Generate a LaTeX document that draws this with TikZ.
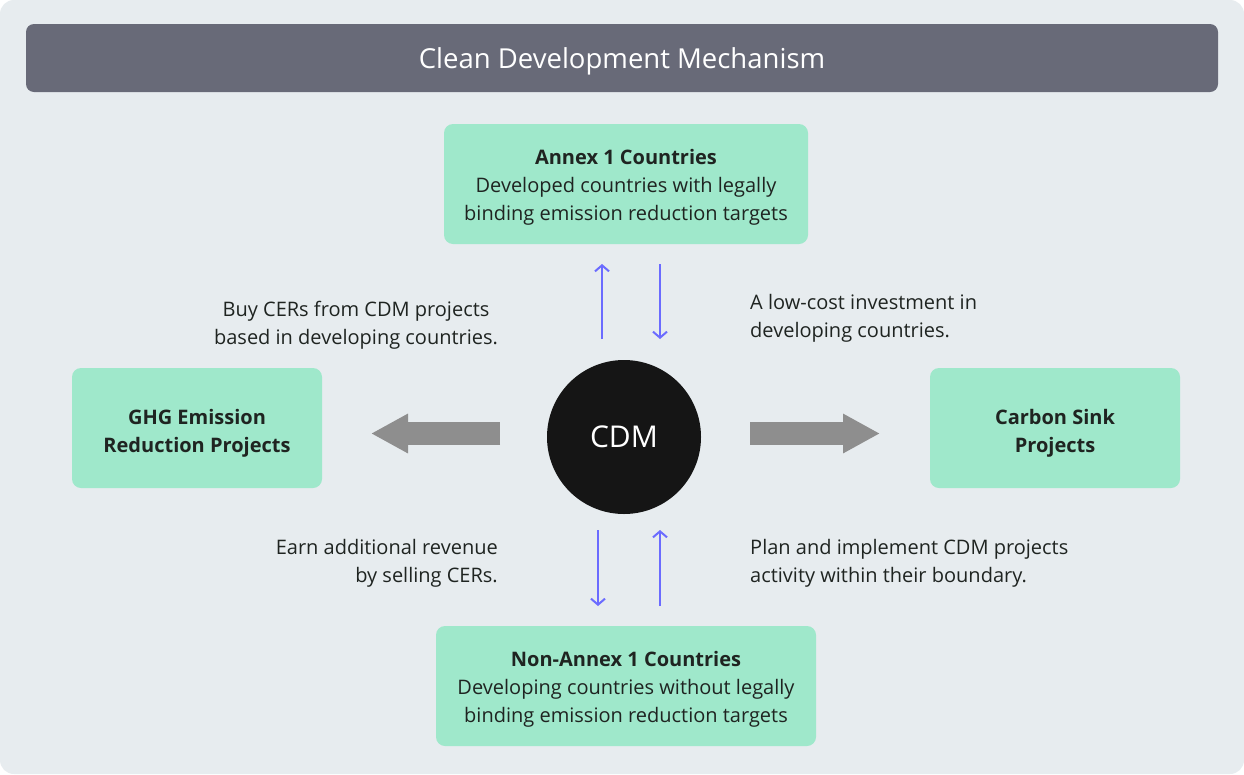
\documentclass[tikz,border=0pt]{standalone}
\usepackage{fontspec}
\setmainfont{Open Sans}
\usetikzlibrary{arrows.meta,calc}
\definecolor{bgc}{HTML}{E7ECEF}
\definecolor{barc}{HTML}{686A78}
\definecolor{boxc}{HTML}{9FE8CB}
\definecolor{txtc}{HTML}{1F2421}
\definecolor{bluec}{HTML}{6B6BFF}
\definecolor{grayc}{HTML}{8E8E8E}
\definecolor{circc}{HTML}{151515}
\tikzset{
  greenbox/.style={fill=boxc, rounded corners=9pt, inner sep=0pt},
  boxtxt/.style={text=txtc, align=center, inner sep=0pt, font=\fontsize{20}{28}\selectfont},
  lbl/.style={text=txtc, font=\fontsize{20}{28}\selectfont, inner sep=0pt},
  bluearrow/.style={draw=bluec, line width=2pt, -{Straight Barb[length=6pt,width=14pt,line width=2pt]}},
  bigarrow/.style={draw=grayc, line width=23pt, -{Triangle[length=37pt,width=37pt]}},
}
\begin{document}
\begin{tikzpicture}[x=1pt,y=-1pt]
\useasboundingbox (0,0) rectangle (1244,774);
\fill[white] (0,0) rectangle (1244,774);
\fill[bgc, rounded corners=14pt] (0,0) rectangle (1244,774);
\node[fill=barc, rounded corners=8pt, minimum width=1192pt, minimum height=68pt, inner sep=0pt] (title) at (622,58) {};
\node[text=white, inner sep=0pt, font=\fontsize{27.5}{28}\selectfont] (titletxt) at ([yshift=-3pt]title.center) {Clean Development Mechanism};

\node[greenbox, minimum width=364pt, minimum height=120pt] (annex) at (626,184) {};
\node[boxtxt] (annextxt) at ([yshift=-3pt]annex.center) {\textbf{Annex 1 Countries}\\Developed countries with legally\\binding emission reduction targets};
\node[greenbox, minimum width=380pt, minimum height=120pt] (nonannex) at (626,686) {};
\node[boxtxt] (nonannextxt) at ([yshift=-3pt]nonannex.center) {\textbf{Non-Annex 1 Countries}\\Developing countries without legally\\binding emission reduction targets};
\node[greenbox, minimum width=250pt, minimum height=120pt] (ghg) at (197,428) {};
\node[boxtxt] (ghgtxt) at ([yshift=-5pt]ghg.center) {\textbf{GHG Emission}\\\textbf{Reduction Projects}};
\node[greenbox, minimum width=250pt, minimum height=120pt] (sink) at (1055,428) {};
\node[boxtxt] (sinktxt) at ([yshift=-5pt]sink.center) {\textbf{Carbon Sink}\\\textbf{Projects}};

\node[circle, fill=circc, minimum size=154pt, inner sep=0pt, text=white, font=\fontsize{30}{30}\selectfont] (cdm) at (624,437) {CDM};

\node[lbl, align=center] (buy) at (356,325) {Buy CERs from CDM projects\\based in developing countries.};
\node[lbl, align=left, anchor=west] (low) at (750,318) {A low-cost investment in\\developing countries.};
\node[lbl, align=right, anchor=east] (earn) at (498,563) {Earn additional revenue\\by selling CERs.};
\node[lbl, align=left, anchor=west] (plan) at (750,563) {Plan and implement CDM projects\\activity within their boundary.};

% blue arrows
\coordinate (a1s) at (602,339); \coordinate (a1e) at (602,264);
\coordinate (a2s) at (660,264); \coordinate (a2e) at (660,339);
\coordinate (b1s) at (598,530); \coordinate (b1e) at (598,606);
\coordinate (b2s) at (660,606); \coordinate (b2e) at (660,530);
\draw[bluearrow] (a1s) -- (a1e);
\draw[bluearrow] (a2s) -- (a2e);
\draw[bluearrow] (b1s) -- (b1e);
\draw[bluearrow] (b2s) -- (b2e);

% gray arrows
\coordinate (gls) at (500,433.5); \coordinate (gle) at (371,433.5);
\coordinate (grs) at (750,433.5); \coordinate (gre) at (880,433.5);
\draw[bigarrow] (gls) -- (gle);
\draw[bigarrow] (grs) -- (gre);
\end{tikzpicture}
\end{document}
